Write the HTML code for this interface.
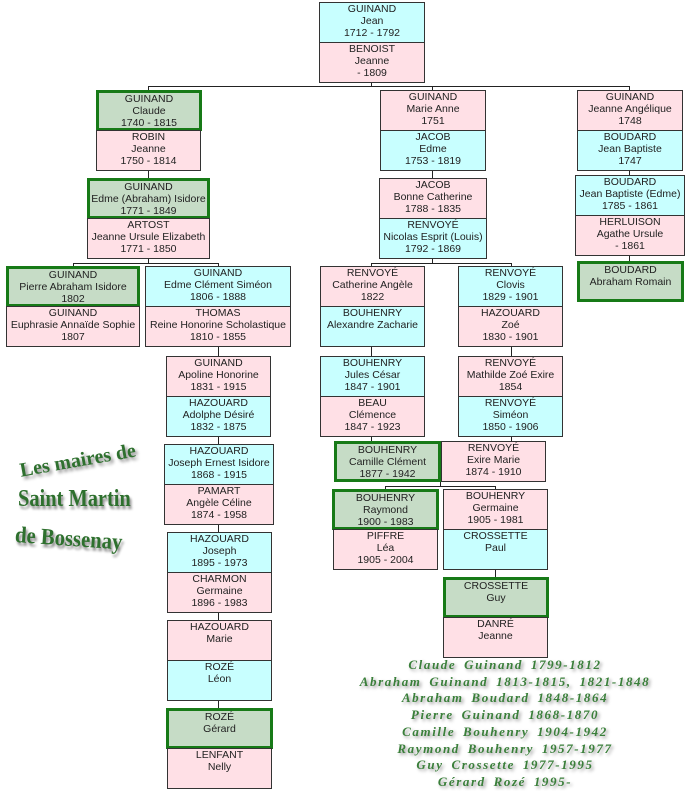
<!DOCTYPE html>
<html><head><meta charset="utf-8"><style>
body{margin:0;width:692px;height:791px;background:#fff;position:relative;overflow:hidden;font-family:"Liberation Sans",sans-serif}
.b{position:absolute;box-sizing:border-box;border:1px solid #333;text-align:center;font-size:10.5px;line-height:12px;color:#222;padding-top:0}
.c{background:#c8ffff}.p{background:#ffe0e6}.g{background:#c6dcc6;border:3px solid #177a17;padding-top:0}
.l{position:absolute;background:#222}
.t{position:absolute;font-family:"Liberation Serif",serif;font-weight:bold;color:#2e702e;text-shadow:2px 3px 3px #888;white-space:nowrap;transform-origin:left top}
.m{position:absolute;left:330px;width:350px;text-align:center;font-family:"Liberation Serif",serif;font-weight:bold;font-style:italic;font-size:13px;color:#3a7f3a;text-shadow:2px 2px 3px #999;letter-spacing:1.6px;word-spacing:3px;line-height:16.7px;top:657px}
</style></head><body>
<div class="l" style="left:148px;top:86px;width:482px;height:1px"></div>
<div class="l" style="left:371px;top:82px;width:1px;height:4px"></div>
<div class="l" style="left:148px;top:86px;width:1px;height:4px"></div>
<div class="l" style="left:432px;top:86px;width:1px;height:4px"></div>
<div class="l" style="left:629px;top:86px;width:1px;height:4px"></div>
<div class="l" style="left:148px;top:170px;width:1px;height:8px"></div>
<div class="l" style="left:73px;top:263px;width:146px;height:1px"></div>
<div class="l" style="left:148px;top:258px;width:1px;height:5px"></div>
<div class="l" style="left:73px;top:263px;width:1px;height:3px"></div>
<div class="l" style="left:218px;top:263px;width:1px;height:3px"></div>
<div class="l" style="left:218px;top:346px;width:1px;height:10px"></div>
<div class="l" style="left:218px;top:436px;width:1px;height:8px"></div>
<div class="l" style="left:218px;top:524px;width:1px;height:8px"></div>
<div class="l" style="left:218px;top:612px;width:1px;height:8px"></div>
<div class="l" style="left:218px;top:700px;width:1px;height:8px"></div>
<div class="l" style="left:432px;top:170px;width:1px;height:8px"></div>
<div class="l" style="left:371px;top:263px;width:141px;height:1px"></div>
<div class="l" style="left:432px;top:258px;width:1px;height:5px"></div>
<div class="l" style="left:371px;top:263px;width:1px;height:3px"></div>
<div class="l" style="left:511px;top:263px;width:1px;height:3px"></div>
<div class="l" style="left:371px;top:346px;width:1px;height:10px"></div>
<div class="l" style="left:511px;top:346px;width:1px;height:10px"></div>
<div class="l" style="left:371px;top:436px;width:1px;height:5px"></div>
<div class="l" style="left:511px;top:436px;width:1px;height:5px"></div>
<div class="l" style="left:385px;top:486px;width:111px;height:1px"></div>
<div class="l" style="left:440px;top:481px;width:1px;height:5px"></div>
<div class="l" style="left:385px;top:486px;width:1px;height:3px"></div>
<div class="l" style="left:495px;top:486px;width:1px;height:3px"></div>
<div class="l" style="left:495px;top:569px;width:1px;height:8px"></div>
<div class="l" style="left:629px;top:170px;width:1px;height:5px"></div>
<div class="l" style="left:629px;top:255px;width:1px;height:7px"></div>

<div class="b c" style="left:319px;top:2px;width:106px;height:41px">GUINAND<br>Jean<br>1712 - 1792</div>
<div class="b p" style="left:319px;top:42px;width:106px;height:41px">BENOIST<br>Jeanne<br>- 1809</div>

<div class="b g" style="left:96px;top:90px;width:106px;height:41px">GUINAND<br>Claude<br>1740 - 1815</div>
<div class="b p" style="left:96px;top:130px;width:105px;height:41px">ROBIN<br>Jeanne<br>1750 - 1814</div>
<div class="b g" style="left:87px;top:178px;width:123px;height:41px">GUINAND<br>Edme (Abraham) Isidore<br>1771 - 1849</div>
<div class="b p" style="left:87px;top:218px;width:123px;height:41px">ARTOST<br>Jeanne Ursule Elizabeth<br>1771 - 1850</div>
<div class="b g" style="left:6px;top:266px;width:134px;height:41px">GUINAND<br>Pierre Abraham Isidore<br>1802</div>
<div class="b p" style="left:6px;top:306px;width:134px;height:41px">GUINAND<br>Euphrasie Annaïde Sophie<br>1807</div>
<div class="b c" style="left:145px;top:266px;width:146px;height:41px">GUINAND<br>Edme Clément Siméon<br>1806 - 1888</div>
<div class="b p" style="left:145px;top:306px;width:146px;height:41px">THOMAS<br>Reine Honorine Scholastique<br>1810 - 1855</div>
<div class="b p" style="left:166px;top:356px;width:105px;height:41px">GUINAND<br>Apoline Honorine<br>1831 - 1915</div>
<div class="b c" style="left:166px;top:396px;width:105px;height:41px">HAZOUARD<br>Adolphe Désiré<br>1832 - 1875</div>
<div class="b c" style="left:164px;top:444px;width:110px;height:41px">HAZOUARD<br>Joseph Ernest Isidore<br>1868 - 1915</div>
<div class="b p" style="left:164px;top:484px;width:110px;height:41px">PAMART<br>Angèle Céline<br>1874 - 1958</div>
<div class="b c" style="left:167px;top:532px;width:105px;height:41px">HAZOUARD<br>Joseph<br>1895 - 1973</div>
<div class="b p" style="left:167px;top:572px;width:105px;height:41px">CHARMON<br>Germaine<br>1896 - 1983</div>
<div class="b p" style="left:167px;top:620px;width:105px;height:41px">HAZOUARD<br>Marie</div>
<div class="b c" style="left:167px;top:660px;width:105px;height:41px">ROZÉ<br>Léon</div>
<div class="b g" style="left:166px;top:708px;width:107px;height:41px">ROZÉ<br>Gérard</div>
<div class="b p" style="left:167px;top:748px;width:105px;height:41px">LENFANT<br>Nelly</div>

<div class="b p" style="left:380px;top:90px;width:106px;height:41px">GUINAND<br>Marie Anne<br>1751</div>
<div class="b c" style="left:380px;top:130px;width:106px;height:41px">JACOB<br>Edme<br>1753 - 1819</div>
<div class="b p" style="left:379px;top:178px;width:108px;height:41px">JACOB<br>Bonne Catherine<br>1788 - 1835</div>
<div class="b c" style="left:379px;top:218px;width:108px;height:41px">RENVOYÉ<br>Nicolas Esprit (Louis)<br>1792 - 1869</div>
<div class="b p" style="left:320px;top:266px;width:105px;height:41px">RENVOYÉ<br>Catherine Angèle<br>1822</div>
<div class="b c" style="left:320px;top:306px;width:105px;height:41px">BOUHENRY<br>Alexandre Zacharie</div>
<div class="b c" style="left:458px;top:266px;width:105px;height:41px">RENVOYÉ<br>Clovis<br>1829 - 1901</div>
<div class="b p" style="left:458px;top:306px;width:105px;height:41px">HAZOUARD<br>Zoé<br>1830 - 1901</div>
<div class="b c" style="left:320px;top:356px;width:105px;height:41px">BOUHENRY<br>Jules César<br>1847 - 1901</div>
<div class="b p" style="left:320px;top:396px;width:105px;height:41px">BEAU<br>Clémence<br>1847 - 1923</div>
<div class="b p" style="left:458px;top:356px;width:105px;height:41px">RENVOYÉ<br>Mathilde Zoé Exire<br>1854</div>
<div class="b c" style="left:458px;top:396px;width:105px;height:41px">RENVOYÉ<br>Siméon<br>1850 - 1906</div>
<div class="b g" style="left:334px;top:441px;width:107px;height:41px">BOUHENRY<br>Camille Clément<br>1877 - 1942</div>
<div class="b p" style="left:441px;top:441px;width:105px;height:41px">RENVOYÉ<br>Exire Marie<br>1874 - 1910</div>
<div class="b g" style="left:332px;top:489px;width:107px;height:41px">BOUHENRY<br>Raymond<br>1900 - 1983</div>
<div class="b p" style="left:333px;top:529px;width:105px;height:41px">PIFFRE<br>Léa<br>1905 - 2004</div>
<div class="b p" style="left:443px;top:489px;width:105px;height:41px">BOUHENRY<br>Germaine<br>1905 - 1981</div>
<div class="b c" style="left:443px;top:529px;width:105px;height:41px">CROSSETTE<br>Paul</div>
<div class="b g" style="left:443px;top:577px;width:106px;height:41px">CROSSETTE<br>Guy</div>
<div class="b p" style="left:443px;top:617px;width:105px;height:41px">DANRÉ<br>Jeanne</div>

<div class="b p" style="left:577px;top:90px;width:106px;height:41px">GUINAND<br>Jeanne Angélique<br>1748</div>
<div class="b c" style="left:577px;top:130px;width:106px;height:41px">BOUDARD<br>Jean Baptiste<br>1747</div>
<div class="b c" style="left:575px;top:175px;width:110px;height:41px">BOUDARD<br>Jean Baptiste (Edme)<br>1785 - 1861</div>
<div class="b p" style="left:575px;top:215px;width:110px;height:41px">HERLUISON<br>Agathe Ursule<br>- 1861</div>
<div class="b g" style="left:577px;top:261px;width:107px;height:41px">BOUDARD<br>Abraham Romain</div>

<div class="t" style="left:18px;top:460px;font-size:20px;transform:rotate(-10deg)">Les maires de</div>
<div class="t" style="left:18px;top:486px;font-size:24px;transform:scaleX(0.85)">Saint Martin</div>
<div class="t" style="left:16px;top:522px;font-size:23px;transform:rotate(4deg) scaleX(0.9)">de Bossenay</div>

<div class="m">Claude Guinand 1799-1812<br>Abraham Guinand 1813-1815, 1821-1848<br>Abraham Boudard 1848-1864<br>Pierre Guinand 1868-1870<br>Camille Bouhenry 1904-1942<br>Raymond Bouhenry 1957-1977<br>Guy Crossette 1977-1995<br>Gérard Rozé 1995-</div>
</body></html>
